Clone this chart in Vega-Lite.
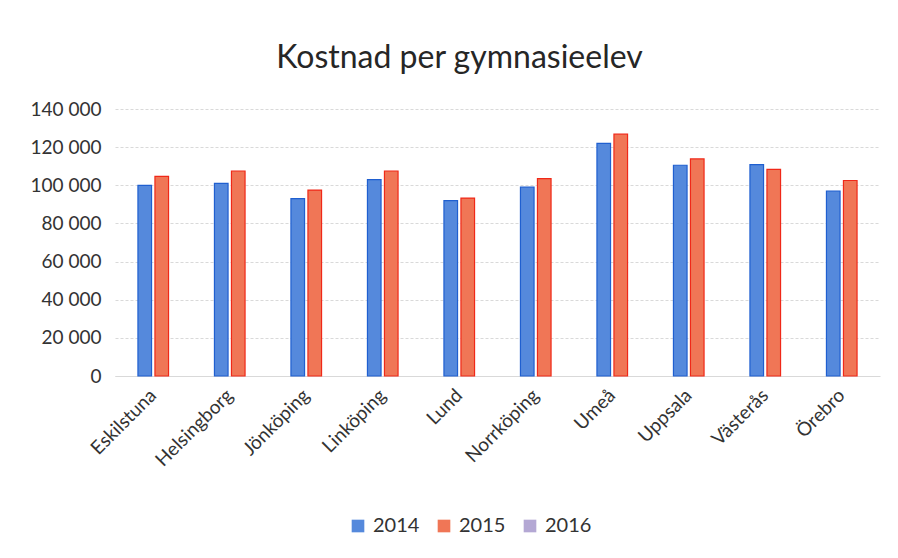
{
  "$schema": "https://vega.github.io/schema/vega-lite/v6.json",
  "width": 765,
  "height": 267,
  "autosize": {"type": "none"},
  "padding": {"left": 115, "top": 109, "right": 18, "bottom": 182},
  "background": "white",
  "title": {
    "text": "Kostnad per gymnasieelev",
    "font": "Lato",
    "fontSize": 32,
    "fontWeight": "normal",
    "color": "#262626",
    "anchor": "middle",
    "frame": "group",
    "dx": -38,
    "offset": 25
  },
  "data": {
    "values": [
      {"kommun": "Eskilstuna", "year": "2014", "cost": 100000},
      {"kommun": "Eskilstuna", "year": "2015", "cost": 104700},
      {"kommun": "Helsingborg", "year": "2014", "cost": 101000},
      {"kommun": "Helsingborg", "year": "2015", "cost": 107500},
      {"kommun": "Jönköping", "year": "2014", "cost": 93000},
      {"kommun": "Jönköping", "year": "2015", "cost": 97500},
      {"kommun": "Linköping", "year": "2014", "cost": 103000},
      {"kommun": "Linköping", "year": "2015", "cost": 107500},
      {"kommun": "Lund", "year": "2014", "cost": 92000},
      {"kommun": "Lund", "year": "2015", "cost": 93300},
      {"kommun": "Norrköping", "year": "2014", "cost": 99000},
      {"kommun": "Norrköping", "year": "2015", "cost": 103500},
      {"kommun": "Umeå", "year": "2014", "cost": 122000},
      {"kommun": "Umeå", "year": "2015", "cost": 126800},
      {"kommun": "Uppsala", "year": "2014", "cost": 110500},
      {"kommun": "Uppsala", "year": "2015", "cost": 113800},
      {"kommun": "Västerås", "year": "2014", "cost": 110800},
      {"kommun": "Västerås", "year": "2015", "cost": 108300},
      {"kommun": "Örebro", "year": "2014", "cost": 97000},
      {"kommun": "Örebro", "year": "2015", "cost": 102500}
    ]
  },
  "mark": {"type": "bar", "strokeWidth": 1.2},
  "encoding": {
    "x": {
      "field": "kommun",
      "type": "nominal",
      "sort": null,
      "scale": {"paddingInner": 0.6, "paddingOuter": 0.3},
      "axis": {
        "title": null,
        "labelAngle": -45,
        "labelAlign": "right",
        "labelBaseline": "middle",
        "labelFont": "Lato",
        "labelFontSize": 19,
        "labelColor": "#333333",
        "labelPadding": 16,
        "labelDx": 6,
        "ticks": false,
        "domain": true,
        "domainColor": "#d9d9d9"
      }
    },
    "xOffset": {
      "field": "year",
      "type": "nominal",
      "scale": {"domain": ["2014", "2015"], "paddingInner": 0.2}
    },
    "y": {
      "field": "cost",
      "type": "quantitative",
      "scale": {"domain": [0, 140000]},
      "axis": {
        "title": null,
        "values": [0, 20000, 40000, 60000, 80000, 100000, 120000, 140000],
        "format": ",.0f",
        "labelFont": "Lato",
        "labelFontSize": 19,
        "labelColor": "#333333",
        "labelPadding": 14,
        "ticks": false,
        "domain": false,
        "gridColor": "#d9d9d9",
        "gridDash": [3, 2]
      }
    },
    "color": {
      "field": "year",
      "type": "nominal",
      "scale": {"domain": ["2014", "2015", "2016"], "range": ["#5589dc", "#f07656", "#b4a8d4"]},
      "legend": {
        "title": null,
        "orient": "none",
        "direction": "horizontal",
        "legendX": 233,
        "legendY": 407,
        "symbolType": "square",
        "symbolSize": 160,
        "symbolStrokeWidth": 0,
        "labelFont": "Lato",
        "labelFontSize": 20,
        "labelColor": "#333333",
        "columnPadding": 14,
        "labelOffset": 5
      }
    },
    "stroke": {
      "field": "year",
      "type": "nominal",
      "scale": {"domain": ["2014", "2015", "2016"], "range": ["#1f5fd0", "#f02818", "#8a7cc0"]},
      "legend": null
    }
  },
  "config": {
    "view": {"stroke": null},
    "locale": {
      "number": {"decimal": ",", "thousands": " ", "grouping": [3], "currency": ["", " kr"]}
    }
  }
}
